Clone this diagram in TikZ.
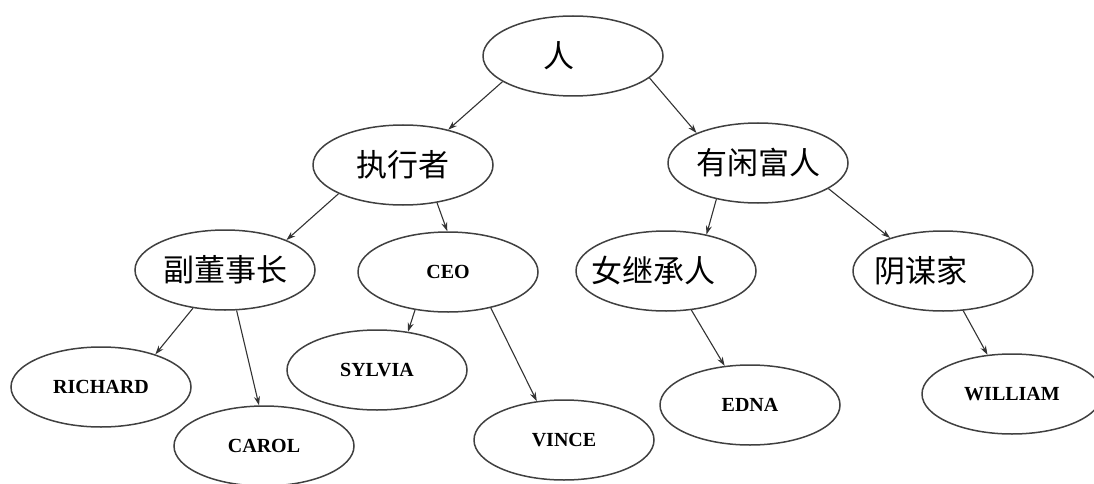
\documentclass[tikz,border=0pt]{standalone}
\usepackage{fontspec}
\newfontfamily\cjk{Noto Sans CJK SC}
\newfontfamily\namefont{Liberation Serif}
\usetikzlibrary{shapes.geometric,arrows.meta}

\begin{document}
\begin{tikzpicture}[x=1pt,y=-1pt,
  oval/.style={ellipse,draw=black!75,line width=1.5pt,minimum width=180pt,minimum height=80pt,inner sep=0pt},
  zh/.style={oval,font=\cjk\fontsize{31}{33}\selectfont},
  en/.style={oval,font=\namefont\bfseries\fontsize{20}{22}\selectfont},
  link/.style={-{Stealth[length=9pt,width=6pt]},line width=1.1pt,draw=black!80}]
  \useasboundingbox (0,0) rectangle (1094,484);
  \node[zh] (ren) at (573,56) {\hspace*{-28pt}人};
  \node[zh] (exec) at (403,165) {执行者};
  \node[zh] (idle) at (758,163) {有闲富人};
  \node[zh] (vp) at (225,270) {副董事长};
  \node[en] (ceo) at (448,272) {CEO};
  \node[zh] (heir) at (666,271) {\hspace*{-26pt}女继承人};
  \node[zh] (plot) at (943,271) {\hspace*{-44pt}阴谋家};
  \node[en] (richard) at (101,387) {RICHARD};
  \node[en] (carol) at (264,446) {CAROL};
  \node[en] (sylvia) at (377,370) {SYLVIA};
  \node[en] (vince) at (564,440) {VINCE};
  \node[en] (edna) at (750,405) {EDNA};
  \node[en] (william) at (1012,394) {WILLIAM};
  \draw[link] (ren.200) -- (exec.38);
  \draw[link] (ren.344) -- (idle.154);
  \draw[link] (exec.204) -- (vp.26);
  \draw[link] (exec.312) -- (ceo.91);
  \draw[link] (idle.221) -- (heir.42);
  \draw[link] (idle.340) -- (plot.148);
  \draw[link] (vp.230) -- (richard.31);
  \draw[link] (vp.286) -- (carol.97);
  \draw[link] (ceo.229) -- (sylvia.51);
  \draw[link] (ceo.320) -- (vince.125);
  \draw[link] (heir.303) -- (edna.123);
  \draw[link] (plot.297) -- (william.122);
\end{tikzpicture}
\end{document}
